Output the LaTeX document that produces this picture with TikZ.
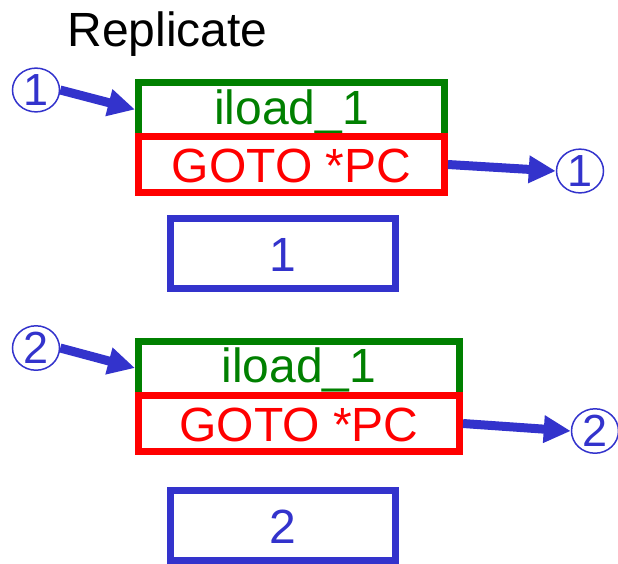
\documentclass[tikz,border=0pt]{standalone}
\usepackage{fontspec}
\setmainfont{Liberation Sans}
\usetikzlibrary{arrows.meta, shapes.geometric}
\definecolor{codegreen}{RGB}{0, 128, 0}
\definecolor{codered}{RGB}{255, 0, 0}
\definecolor{markblue}{RGB}{51, 51, 204}

\begin{document}
\begin{tikzpicture}[
    x=1pt, y=-1pt,
    instr/.style={rectangle, line width=7pt, inner sep=0pt, text height=36pt, text depth=0pt, font=\fontsize{48}{50}\selectfont},
    loadbox/.style={instr, draw=codegreen, text=codegreen, minimum height=54pt, text height=29pt},
    gotobox/.style={instr, draw=codered, text=codered, minimum height=56pt},
    valbox/.style={instr, draw=markblue, text=markblue, minimum width=225pt, minimum height=70pt},
    tag/.style={ellipse, draw=markblue, line width=1.5pt, text=markblue, inner sep=0pt, minimum width=47pt, minimum height=40pt, font=\fontsize{45}{45}\selectfont},
    arrow/.style={-{Triangle[length=27pt, width=26pt]}, line width=9pt, color=markblue}
]
    \useasboundingbox (0,0) rectangle (618,563);
    \node[anchor=base west, font=\fontsize{48}{50}\selectfont] (title) at (64,46) {Replicate};

    % first copy
    \node[loadbox, minimum width=306pt] (load1) at (291.5,109.5) {iload\_1};
    \node[gotobox, minimum width=306pt] (goto1) at (291.5,164.5) {GOTO *PC};
    \node[valbox] (val1) at (283,253.5) {1};
    \node[tag] (in1) at (36,90) {1};
    \node[tag] (out1) at (580,171) {1};

    % second copy
    \node[loadbox, minimum width=321pt] (load2) at (299,368) {iload\_1};
    \node[gotobox, minimum width=321pt] (goto2) at (299,423.5) {GOTO *PC};
    \node[valbox] (val2) at (283,525) {2};
    \node[tag] (in2) at (36,348) {2};
    \node[tag] (out2) at (595,431) {2};

    \draw[arrow] (in1.east) -- (load1.west);
    \draw[arrow] (goto1.east) -- (out1.west);
    \draw[arrow] (in2.east) -- (load2.west);
    \draw[arrow] (goto2.east) -- (out2.west);
\end{tikzpicture}
\end{document}
